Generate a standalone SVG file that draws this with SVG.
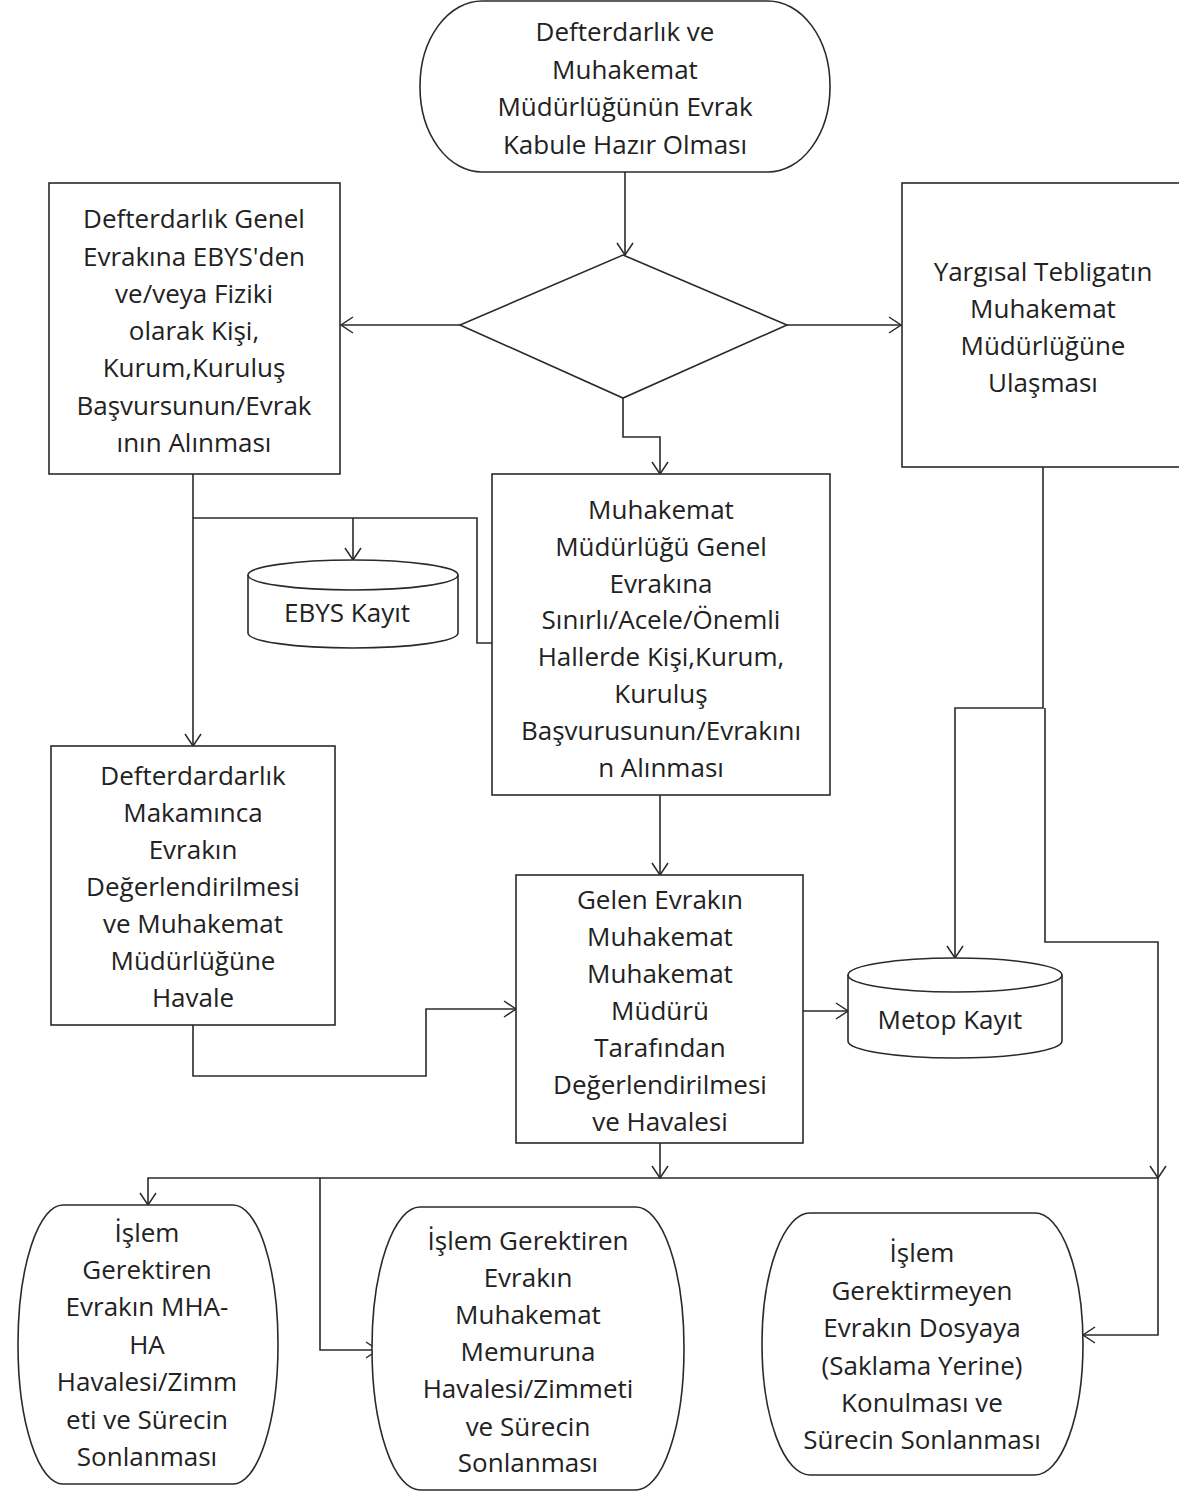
<svg xmlns="http://www.w3.org/2000/svg" width="1179" height="1493" viewBox="0 0 1179 1493">
<defs>
<style>
.n{fill:#fff;stroke:#2a2a2a;stroke-width:1.6}
.t{font-family:"Open Sans","Liberation Sans",sans-serif;font-size:26px;fill:#222;text-anchor:middle}
.c{fill:none;stroke:#2a2a2a;stroke-width:1.6}
</style>
<marker id="arr" viewBox="0 0 14 18" refX="13" refY="9" markerWidth="14" markerHeight="18" markerUnits="userSpaceOnUse" orient="auto">
<path d="M1,1 L13,9 L1,17" fill="none" stroke="#2a2a2a" stroke-width="1.5"/>
</marker>
</defs>
<rect width="1179" height="1493" fill="#fff"/>

<g id="connectors">
<path class="c" d="M625,172 V255" marker-end="url(#arr)"/>
<path class="c" d="M460,325 H341" marker-end="url(#arr)"/>
<path class="c" d="M787,325 H901" marker-end="url(#arr)"/>
<path class="c" d="M623,398 V437 H660 V474" marker-end="url(#arr)"/>
<path class="c" d="M193,474 V746" marker-end="url(#arr)"/>
<path class="c" d="M193,518 H477 V643 H492"/>
<path class="c" d="M353,518 V560" marker-end="url(#arr)"/>
<path class="c" d="M193,1025 V1076 H426 V1009 H516" marker-end="url(#arr)"/>
<path class="c" d="M660,795 V875" marker-end="url(#arr)"/>
<path class="c" d="M803,1011 H848" marker-end="url(#arr)"/>
<path class="c" d="M1043,467 V708 H955 V958" marker-end="url(#arr)"/>
<path class="c" d="M1045,708 V942 H1158 V1178" marker-end="url(#arr)"/>
<path class="c" d="M1158,1178 V1335 H1083" marker-end="url(#arr)"/>
<path class="c" d="M660,1143 V1178" marker-end="url(#arr)"/>
<path class="c" d="M1158,1178 H148 V1205" marker-end="url(#arr)"/>
<path class="c" d="M320,1178 V1350 H378" marker-end="url(#arr)"/>
</g>

<g id="start">
<rect class="n" x="420" y="1" width="410" height="171" rx="62" ry="85"/>
<text class="t" x="625"><tspan x="625" y="41">Defterdarlık ve</tspan><tspan x="625" y="79">Muhakemat</tspan><tspan x="625" y="116">Müdürlüğünün Evrak</tspan><tspan x="625" y="154">Kabule Hazır Olması</tspan></text>
</g>

<g id="decision">
<polygon class="n" points="623,255 787,325 623,398 460,325"/>
</g>

<g id="defterdarlik-genel-evrak">
<rect class="n" x="49" y="183" width="291" height="291"/>
<text class="t"><tspan x="194" y="228">Defterdarlık Genel</tspan><tspan x="194" y="266">Evrakına EBYS'den</tspan><tspan x="194" y="303">ve/veya Fiziki</tspan><tspan x="194" y="340">olarak Kişi,</tspan><tspan x="194" y="377">Kurum,Kuruluş</tspan><tspan x="194" y="415">Başvursunun/Evrak</tspan><tspan x="194" y="452">ının Alınması</tspan></text>
</g>

<g id="yargisal-tebligat">
<rect class="n" x="902" y="183" width="290" height="284"/>
<text class="t"><tspan x="1043" y="281">Yargısal Tebligatın</tspan><tspan x="1043" y="318">Muhakemat</tspan><tspan x="1043" y="355">Müdürlüğüne</tspan><tspan x="1043" y="392">Ulaşması</tspan></text>
</g>

<g id="muhakemat-genel-evrak">
<rect class="n" x="492" y="474" width="338" height="321"/>
<text class="t"><tspan x="661" y="519">Muhakemat</tspan><tspan x="661" y="556">Müdürlüğü Genel</tspan><tspan x="661" y="593">Evrakına</tspan><tspan x="661" y="629">Sınırlı/Acele/Önemli</tspan><tspan x="661" y="666">Hallerde Kişi,Kurum,</tspan><tspan x="661" y="703">Kuruluş</tspan><tspan x="661" y="740">Başvurusunun/Evrakını</tspan><tspan x="661" y="777">n Alınması</tspan></text>
</g>

<g id="ebys-kayit">
<path class="n" d="M248,575 A105,15 0 0 1 458,575 V633 A105,15 0 0 1 248,633 Z"/>
<path class="c" d="M248,575 A105,15 0 0 0 458,575"/>
<text class="t" x="347" y="622">EBYS Kayıt</text>
</g>

<g id="defterdarlik-makam">
<rect class="n" x="51" y="746" width="284" height="279"/>
<text class="t"><tspan x="193" y="785">Defterdardarlık</tspan><tspan x="193" y="822">Makamınca</tspan><tspan x="193" y="859">Evrakın</tspan><tspan x="193" y="896">Değerlendirilmesi</tspan><tspan x="193" y="933">ve Muhakemat</tspan><tspan x="193" y="970">Müdürlüğüne</tspan><tspan x="193" y="1007">Havale</tspan></text>
</g>

<g id="gelen-evrak">
<rect class="n" x="516" y="875" width="287" height="268"/>
<text class="t"><tspan x="660" y="909">Gelen Evrakın</tspan><tspan x="660" y="946">Muhakemat</tspan><tspan x="660" y="983">Muhakemat</tspan><tspan x="660" y="1020">Müdürü</tspan><tspan x="660" y="1057">Tarafından</tspan><tspan x="660" y="1094">Değerlendirilmesi</tspan><tspan x="660" y="1131">ve Havalesi</tspan></text>
</g>

<g id="metop-kayit">
<path class="n" d="M848,975 A107,17 0 0 1 1062,975 V1041 A107,17 0 0 1 848,1041 Z"/>
<path class="c" d="M848,975 A107,17 0 0 0 1062,975"/>
<text class="t" x="950" y="1029">Metop Kayıt</text>
</g>

<g id="mha-ha-havale">
<rect class="n" x="18" y="1205" width="260" height="279" rx="45" ry="139"/>
<text class="t"><tspan x="147" y="1242">İşlem</tspan><tspan x="147" y="1279">Gerektiren</tspan><tspan x="147" y="1316">Evrakın MHA-</tspan><tspan x="147" y="1354">HA</tspan><tspan x="147" y="1391">Havalesi/Zimm</tspan><tspan x="147" y="1429">eti ve Sürecin</tspan><tspan x="147" y="1466">Sonlanması</tspan></text>
</g>

<g id="memur-havale">
<rect class="n" x="372" y="1207" width="312" height="283" rx="48" ry="141"/>
<text class="t"><tspan x="528" y="1250">İşlem Gerektiren</tspan><tspan x="528" y="1287">Evrakın</tspan><tspan x="528" y="1324">Muhakemat</tspan><tspan x="528" y="1361">Memuruna</tspan><tspan x="528" y="1398">Havalesi/Zimmeti</tspan><tspan x="528" y="1436">ve Sürecin</tspan><tspan x="528" y="1472">Sonlanması</tspan></text>
</g>

<g id="dosyaya-konulmasi">
<rect class="n" x="762" y="1213" width="321" height="262" rx="48" ry="131"/>
<text class="t"><tspan x="922" y="1262">İşlem</tspan><tspan x="922" y="1300">Gerektirmeyen</tspan><tspan x="922" y="1337">Evrakın Dosyaya</tspan><tspan x="922" y="1375">(Saklama Yerine)</tspan><tspan x="922" y="1412">Konulması ve</tspan><tspan x="922" y="1449">Sürecin Sonlanması</tspan></text>
</g>
</svg>
